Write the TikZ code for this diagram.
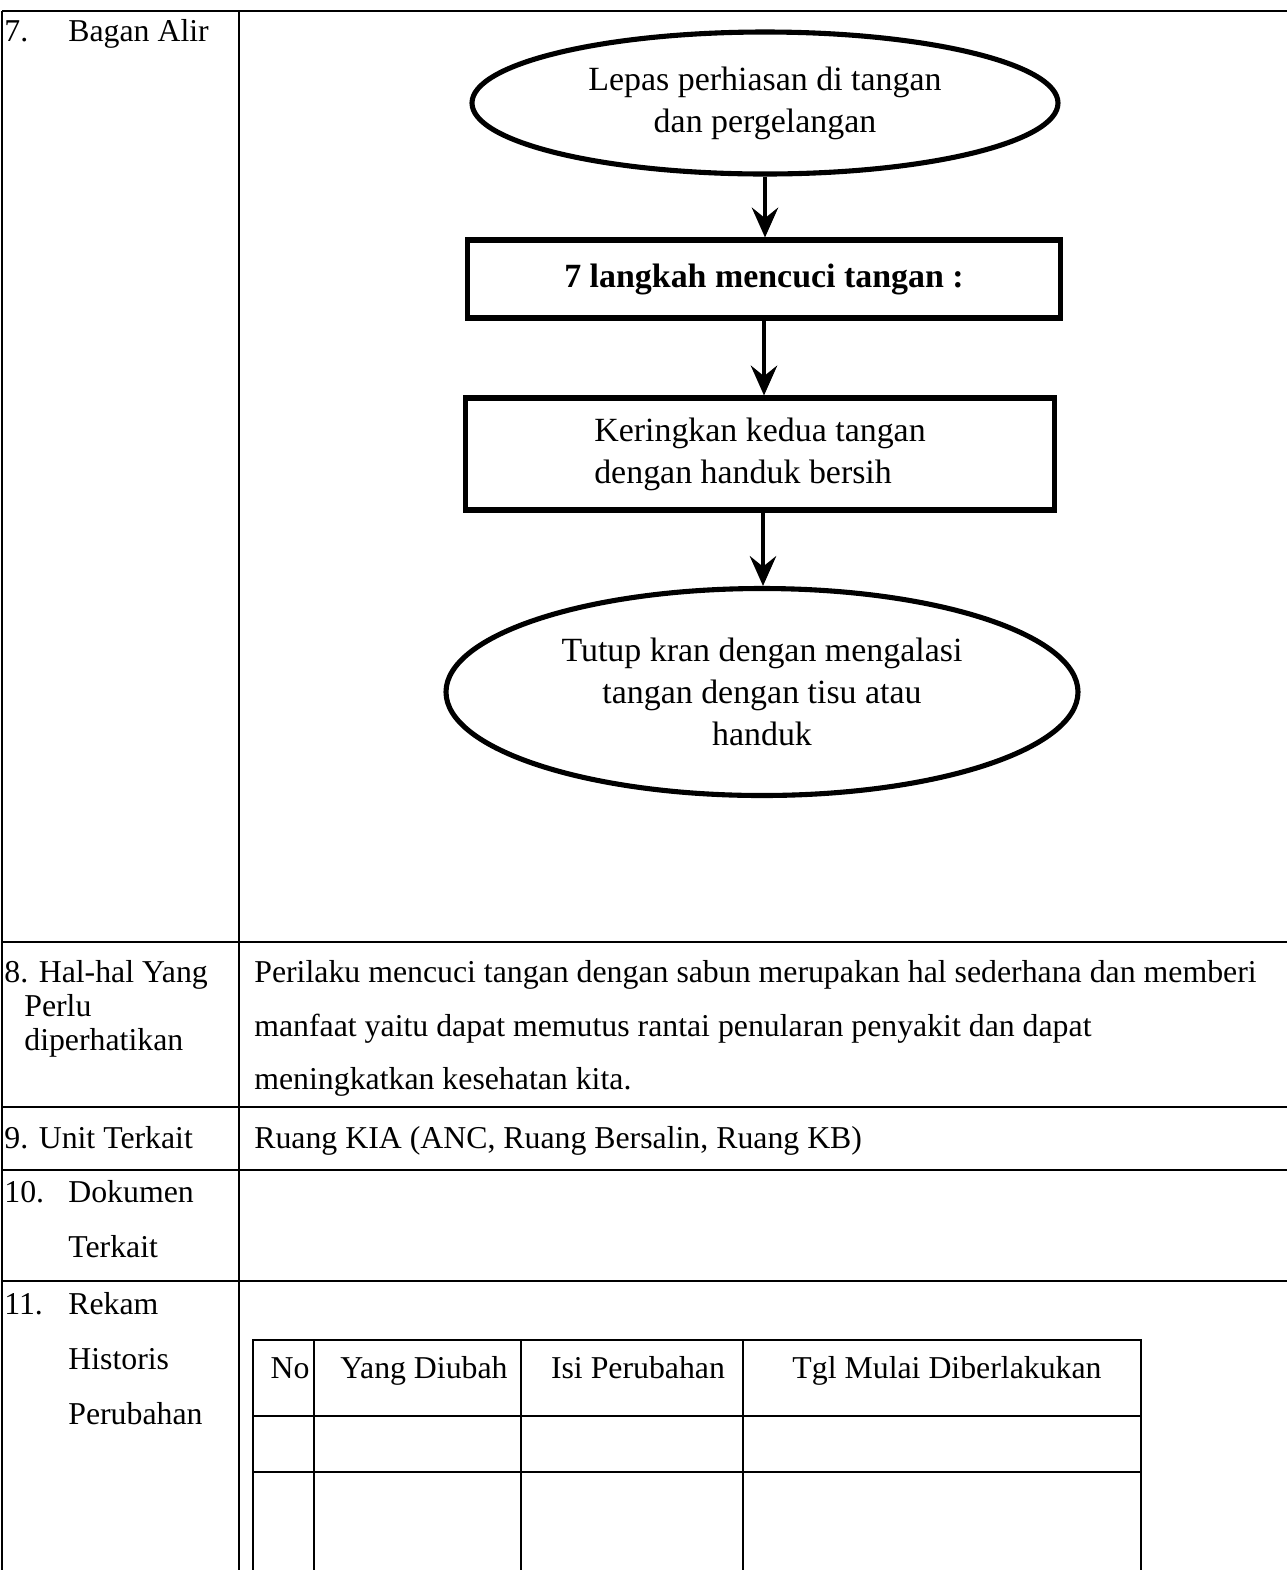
\documentclass[tikz,border=0pt]{standalone}
\usepackage{fontspec}
\setmainfont{Liberation Serif}
\usetikzlibrary{shapes.geometric,arrows.meta,positioning}
\begin{document}
\begin{tikzpicture}[x=0.02cm,y=-0.02cm,
  txt/.style={anchor=base west,inner sep=0pt,font=\fontsize{18.1}{21}\selectfont},
  head/.style={anchor=base,inner sep=0pt,font=\fontsize{18.1}{21}\selectfont},
  oval/.style={ellipse,draw,line width=2.9pt,align=center,inner sep=0pt,font=\fontsize{19.3}{24}\selectfont},
  stepbox/.style={rectangle,draw,line width=2.9pt,inner sep=0pt,font=\fontsize{19.3}{24}\selectfont},
  flow/.style={line width=2.4pt,-{Stealth[length=17pt,width=15pt,inset=6pt]}}]
\useasboundingbox (0,0) rectangle (1287,1570);

\draw[line width=1.2pt] (2,11) -- (1287,11);
\foreach \y in {942,1107,1170,1281}
\draw[line width=1.2pt] (2,\y) -- (1287,\y);
\draw[line width=1.2pt] (2,11) -- (2,1570);
\draw[line width=1.2pt] (239,11) -- (239,1570);

\node[txt] (n7) at (4,41) {7.};
\node[txt] (bagan) at (68,41) {Bagan Alir};

\node[oval,minimum width=586*0.02cm,minimum height=142*0.02cm] (lepas) at (765,103)
  {Lepas perhiasan di tangan\\dan pergelangan};
\node[stepbox,minimum width=593*0.02cm,minimum height=78*0.02cm] (langkah) at (764,279)
  {\bfseries 7 langkah mencuci tangan :};
\node[stepbox,minimum width=589*0.02cm,minimum height=112*0.02cm,align=left] (kering) at (760,454)
  {Keringkan kedua tangan\\dengan handuk bersih};
\node[oval,minimum width=632*0.02cm,minimum height=207*0.02cm] (tutup) at (762,692)
  {Tutup kran dengan mengalasi\\tangan dengan tisu atau\\handuk};

\draw[flow] (lepas.south) -- (lepas.south |- langkah.north);
\draw[flow] (langkah.south) -- (langkah.south |- kering.north);
\draw[flow] (kering.south -| 763,0) -- (tutup.north -| 763,0);

\node[txt] (n8) at (4,982) {8. Hal-hal Yang};
\node[txt] (perlu) at (24,1016) {Perlu};
\node[txt] (diper) at (24,1050) {diperhatikan};
\node[txt] (isi1) at (254,982) {Perilaku mencuci tangan dengan sabun merupakan hal sederhana dan memberi};
\node[txt] (isi2) at (254,1036) {manfaat yaitu dapat memutus rantai penularan penyakit dan dapat};
\node[txt] (isi3) at (254,1089) {meningkatkan kesehatan kita.};

\node[txt] (n9) at (4,1148) {9. Unit Terkait};
\node[txt] (unit) at (254,1148) {Ruang KIA (ANC, Ruang Bersalin, Ruang KB)};

\node[txt] (n10) at (4,1202) {10.};
\node[txt] (dok) at (68,1202) {Dokumen};
\node[txt] (terkait) at (68,1257) {Terkait};

\node[txt] (n11) at (4,1314) {11.};
\node[txt] (rekam) at (68,1314) {Rekam};
\node[txt] (hist) at (68,1369) {Historis};
\node[txt] (perub) at (68,1424) {Perubahan};

\draw[line width=1.1pt] (253,1570) -- (253,1340) -- (1141,1340) -- (1141,1570);
\foreach \y in {1416,1472}
\draw[line width=1.1pt] (253,\y) -- (1141,\y);
\foreach \x in {314,521,743}
\draw[line width=1.1pt] (\x,1340) -- (\x,1570);

\node[head] (hno) at (290,1378) {No};
\node[head] (hyang) at (424,1378) {Yang Diubah};
\node[head] (hisi) at (638,1378) {Isi Perubahan};
\node[head] (htgl) at (947,1378) {Tgl Mulai Diberlakukan};
\end{tikzpicture}
\end{document}
